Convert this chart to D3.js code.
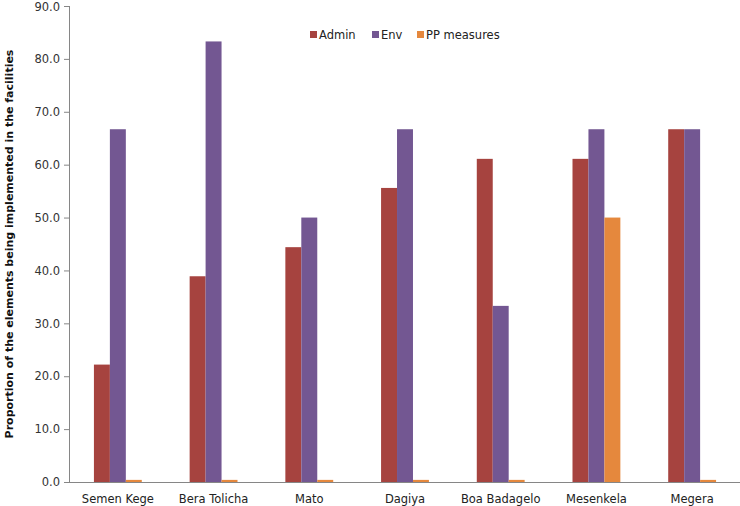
<!DOCTYPE html>
<html><head><meta charset="utf-8">
<script src="https://cdn.jsdelivr.net/npm/d3@7"></script>
<style>body{margin:0;background:#fff}svg{display:block}</style>
</head><body>
<script>
const categories = ["Semen Kege","Bera Tolicha","Mato","Dagiya","Boa Badagelo","Mesenkela","Megera"];
const seriesNames = ["Admin","Env","PP measures"];
const admin = [22.2, 38.9, 44.4, 55.6, 61.1, 61.1, 66.7];
const env = [66.7, 83.3, 50.0, 66.7, 33.3, 66.7, 66.7];
const pp = [0.4, 0.4, 0.4, 0.4, 0.4, 50.0, 0.4];
const yTicks = [0,10,20,30,40,50,60,70,80,90];
const colors = ["#A6433F", "#735792", "#E5883D"];
const yTitle = "Proportion of the elements being implemented in the facilities";

const W = 740, H = 506;
const m = {left: 70, right: 740, top: 6, bottom: 482};
const svg = d3.select("body").append("svg").attr("width", W).attr("height", H);
const font = "'DejaVu Sans', Verdana, sans-serif";

const x = d3.scaleBand().domain(categories).range([m.left, m.right]).paddingInner(0.5).paddingOuter(0.25);
const xs = d3.scaleBand().domain(seriesNames).range([0, x.bandwidth()]);
const y = d3.scaleLinear().domain([0, 90]).range([m.bottom, m.top]);

const seriesVals = [admin, env, pp];
const data = [];
categories.forEach((c, i) => seriesNames.forEach((s, j) => data.push({c, s, v: seriesVals[j][i], col: colors[j]})));

svg.append("g").selectAll("rect").data(data).join("rect")
  .attr("x", d => x(d.c) + xs(d.s))
  .attr("width", xs.bandwidth())
  .attr("y", d => y(d.v))
  .attr("height", d => y(0) - y(d.v))
  .attr("fill", d => d.col);

const ya = svg.append("g").attr("transform", `translate(${m.left},0)`)
  .call(d3.axisLeft(y).tickValues(yTicks).tickFormat(d3.format(".1f")).tickSize(6).tickPadding(4));
ya.select(".domain").attr("stroke", "#868686").attr("d", `M-0.5,${y(90)}V${y(0)}`);
ya.selectAll(".tick line").attr("stroke", "#868686");
ya.selectAll("text").attr("font-family", font).attr("font-size", 11.5).attr("fill", "#333");
ya.selectAll(".tick").filter(d => d === 90).select("text").attr("dy", "0.42em");

const xa = svg.append("g").attr("transform", `translate(0,${m.bottom})`)
  .call(d3.axisBottom(x).tickSize(0).tickPadding(13));
xa.select(".domain").attr("stroke", "#868686").attr("d", `M${m.left},0.5H${m.right}`);
xa.selectAll("text").attr("font-family", font).attr("font-size", 11.5).attr("fill", "#222");

svg.append("text")
  .attr("transform", `translate(13,${(m.top + m.bottom) / 2}) rotate(-90)`)
  .attr("text-anchor", "middle")
  .attr("font-family", font).attr("font-size", 11).attr("font-weight", "bold").attr("fill", "#111")
  .text(yTitle);

const legX = [310, 372, 417];
const leg = svg.append("g");
seriesNames.forEach((s, i) => {
  leg.append("rect").attr("x", legX[i]).attr("y", 31).attr("width", 7).attr("height", 7).attr("fill", colors[i]);
  leg.append("text").attr("x", legX[i] + 9).attr("y", 39).attr("font-family", font).attr("font-size", 11.5).attr("fill", "#222").text(s);
});
</script>
</body></html>
